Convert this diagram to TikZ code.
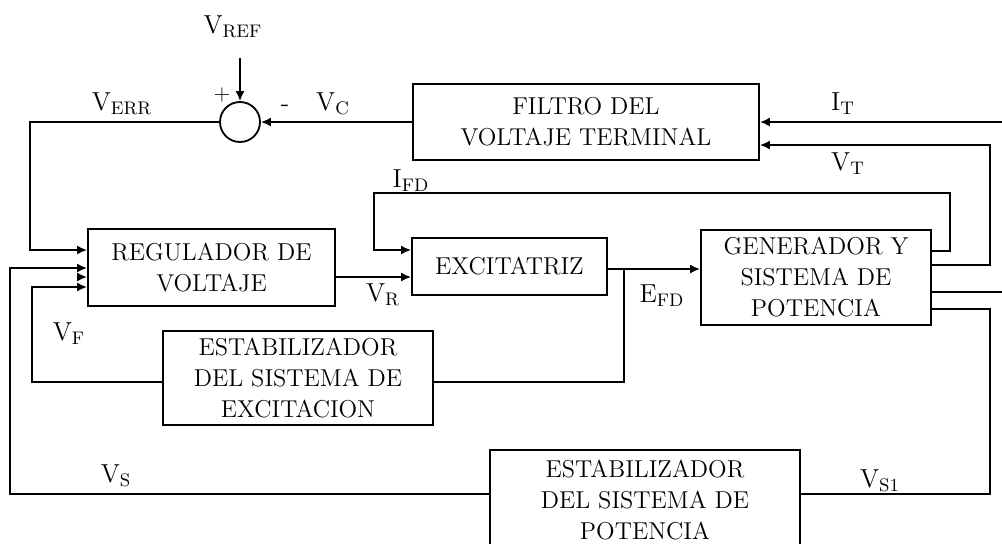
\documentclass[tikz,border=0pt]{standalone}
\usetikzlibrary{arrows.meta}
\begin{document}
\begin{tikzpicture}[x=0.5pt, y=-0.5pt, line width=0.9pt,
  >={Latex[length=5pt,width=4.5pt]},
  bloque/.style={draw, align=center, inner sep=0pt, font=\fontsize{12.2}{15.5}\selectfont},
  senal/.style={font=\fontsize{13}{15}\selectfont, inner sep=0pt}]
  \useasboundingbox (0,0) rectangle (1002,543);
  % bloques
  \node[bloque, minimum width=173pt, minimum height=38pt] (filtro) at (586,122) {FILTRO DEL\\VOLTAJE TERMINAL};
  \node[bloque, minimum width=123.5pt, minimum height=38.5pt] (regulador) at (211.5,267.5) {REGULADOR DE\\VOLTAJE};
  \node[bloque, minimum width=97.5pt, minimum height=28.5pt] (excitatriz) at (509.5,266.5) {EXCITATRIZ};
  \node[bloque, minimum width=115pt, minimum height=47.5pt] (generador) at (816,277.5) {GENERADOR Y\\SISTEMA DE\\POTENCIA};
  \node[bloque, minimum width=135pt, minimum height=47pt] (estabexc) at (298,378) {ESTABILIZADOR\\DEL SISTEMA DE\\EXCITACION};
  \node[bloque, minimum width=155pt, minimum height=50pt] (estabpot) at (645,500) {ESTABILIZADOR\\DEL SISTEMA DE\\POTENCIA};
  \node[draw, circle, minimum size=20pt, inner sep=0pt] (suma) at (240,122) {};
  \coordinate (vref) at (240,58);
  \coordinate (itext) at (1002,122);
  \coordinate (genext) at (1002,292);
  \coordinate (stub) at (80,277);
  % conexiones
  \draw[->] (vref) -- (suma.north);
  \draw[->] (filtro.west) -- (suma.east);
  \draw[->] (suma.west) -| (30,250) -- (regulador.west |- 0,250);
  \draw[->] (itext) -- (filtro.east);
  \draw[->] (generador.east |- 0,265) -| (990,145) -- (filtro.east |- 0,145);
  \draw[->] (generador.east |- 0,251) -- (950,251) |- (374,193) |- (excitatriz.west |- 0,250);
  \draw (generador.east |- 0,292) -- (genext);
  \draw (generador.east |- 0,309) -| (990,494) -- (estabpot.east |- 0,494);
  \draw[->] (estabpot.west |- 0,494) -| (10,268) -- (regulador.west |- 0,268);
  \draw[->] (stub) -- (regulador.west |- 0,277);
  \draw[->] (estabexc.west |- 0,382) -| (32,287) -- (regulador.west |- 0,287);
  \draw[->] (regulador.east |- 0,277) -- (excitatriz.west |- 0,277);
  \draw[->] (excitatriz.east |- 0,269) -- (generador.west |- 0,269);
  \draw (624,269) |- (estabexc.east |- 0,382);
  % senales
  \node[senal] (lvref) at (233,27) {V\textsubscript{REF}};
  \node[senal, font=\fontsize{11}{13}\selectfont] (lmas) at (222,95) {+};
  \node[senal] (lmenos) at (285,108) {-};
  \node[senal] (lverr) at (122,104) {V\textsubscript{ERR}};
  \node[senal] (lvc) at (333,104) {V\textsubscript{C}};
  \node[senal] (lit) at (843,104) {I\textsubscript{T}};
  \node[senal] (lvt) at (848,164) {V\textsubscript{T}};
  \node[senal] (lifd) at (411,181) {I\textsubscript{FD}};
  \node[senal] (lvr) at (383,295) {V\textsubscript{R}};
  \node[senal] (lefd) at (662,296) {E\textsubscript{FD}};
  \node[senal] (lvf) at (69,334) {V\textsubscript{F}};
  \node[senal] (lvs) at (116,476) {V\textsubscript{S}};
  \node[senal] (lvsa) at (880,481) {V\textsubscript{S1}};
\end{tikzpicture}
\end{document}
